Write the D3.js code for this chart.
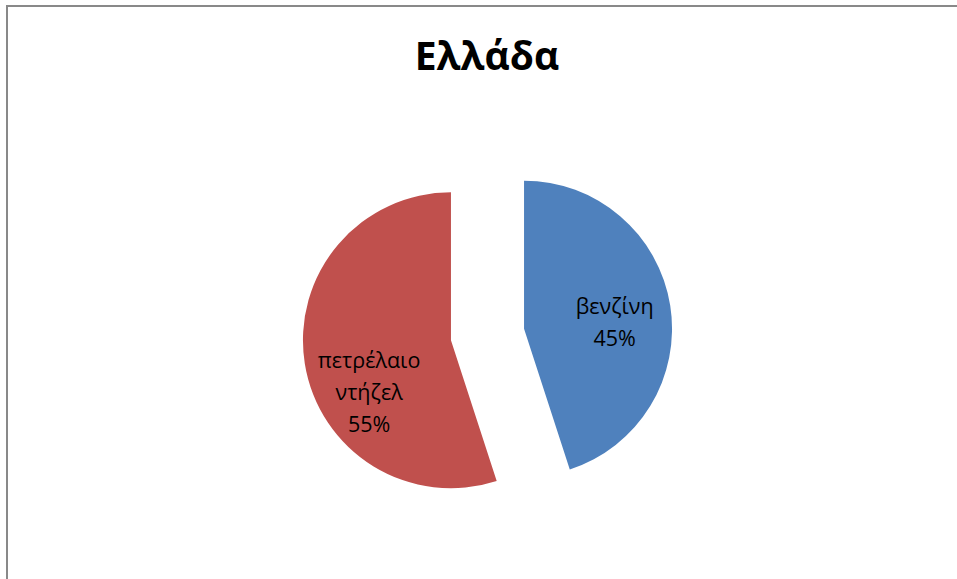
<!DOCTYPE html>
<html>
<head>
<meta charset="utf-8">
<script src="https://cdn.jsdelivr.net/npm/d3@7"></script>
<style>
  html, body { margin: 0; padding: 0; background: #fff; }
  svg { display: block; }
</style>
</head>
<body>
<svg id="chart" width="957" height="579"></svg>
<script>
// Fuel share for Greece
const chartTitle = "Ελλάδα";
const categories = ["βενζίνη", "πετρέλαιο ντήζελ"];
const labelLines = [["βενζίνη"], ["πετρέλαιο", "ντήζελ"]];
const values = [45, 55];
const colors = ["#4F81BD", "#C0504D"];

const width = 957, height = 579;
const svg = d3.select("#chart");

// chart frame (right and bottom edges fall outside the view)
svg.append("rect")
  .attr("x", 7).attr("y", 6)
  .attr("width", 980).attr("height", 600)
  .attr("fill", "#fff")
  .attr("stroke", "#898989")
  .attr("stroke-width", 2);

svg.append("text")
  .attr("x", 487).attr("y", 70)
  .attr("text-anchor", "middle")
  .attr("font-family", "'Open Sans', 'DejaVu Sans', sans-serif")
  .attr("font-weight", "bold")
  .attr("font-size", 39)
  .attr("fill", "#000")
  .text(chartTitle);

const cx = 487.5, cy = 334.5, radius = 148, explode = 37;

const pie = d3.pie().sort(null).value(d => d.value);
const arc = d3.arc().innerRadius(0).outerRadius(radius);

const data = categories.map((c, i) => ({ name: c, value: values[i], lines: labelLines[i], color: colors[i] }));
const total = d3.sum(values);
const arcs = pie(data);

const g = svg.append("g").attr("transform", `translate(${cx},${cy})`);

const slice = g.selectAll("g.slice").data(arcs).join("g")
  .attr("class", "slice")
  .attr("transform", d => {
    const mid = (d.startAngle + d.endAngle) / 2;
    return `translate(${explode * Math.sin(mid)},${-explode * Math.cos(mid)})`;
  });

slice.append("path")
  .attr("d", arc)
  .attr("fill", d => d.data.color);

// data labels: category name plus percentage, placed inside each slice
const labelRadius = [0.62 * radius, 0.56 * radius];
const labelDrop = [8, 39];
const lineGap = 32;

slice.each(function(d, i) {
  const mid = (d.startAngle + d.endAngle) / 2;
  const lx = labelRadius[i] * Math.sin(mid);
  const ly = -labelRadius[i] * Math.cos(mid) + labelDrop[i];
  const lines = d.data.lines.concat([Math.round(d.data.value / total * 100) + "%"]);
  const t = d3.select(this).append("text")
    .attr("text-anchor", "middle")
    .attr("font-family", "'Open Sans', 'DejaVu Sans', sans-serif")
    .attr("font-size", 21.5)
    .attr("fill", "#000");
  const y0 = ly - (lines.length - 1) * lineGap / 2;
  lines.forEach((s, k) => {
    t.append("tspan")
      .attr("x", lx)
      .attr("y", y0 + k * lineGap)
      .attr("dy", "0.35em")
      .text(s);
  });
});
</script>
</body>
</html>
